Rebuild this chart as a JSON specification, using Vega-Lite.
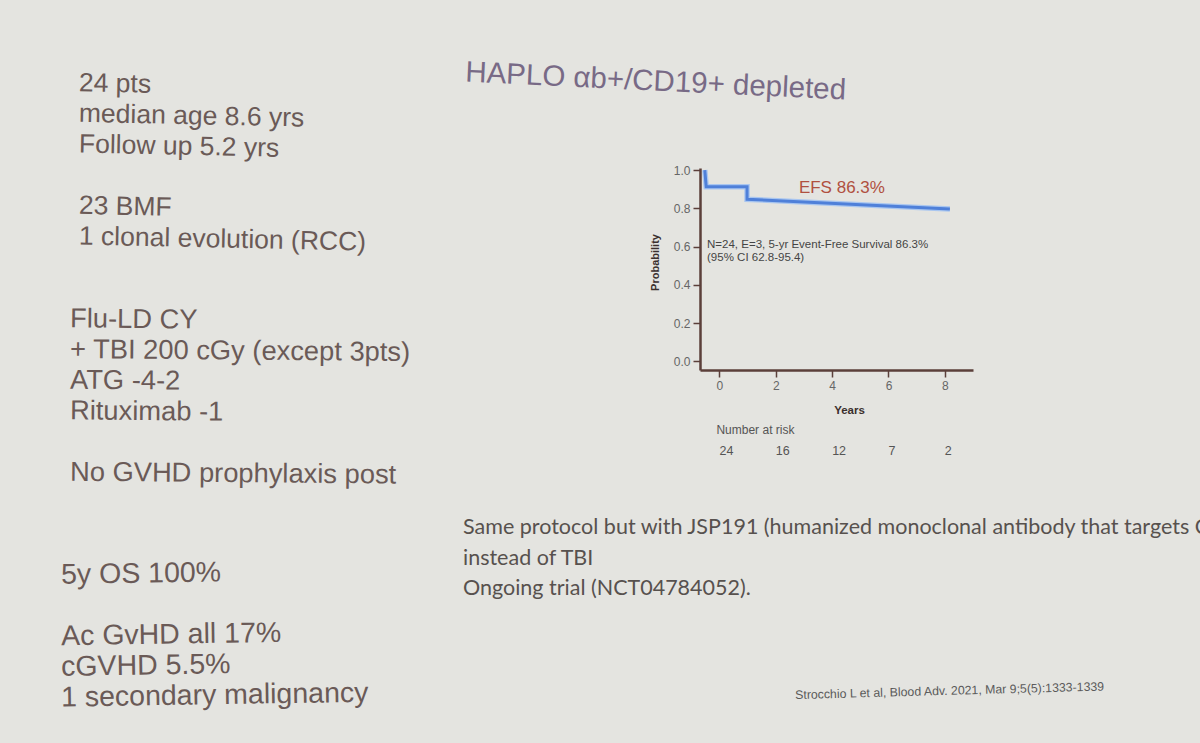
{
  "$schema": "https://vega.github.io/schema/vega-lite/v6.json",
  "description": "HAPLO ab+/CD19+ depleted slide: event-free survival curve with number at risk and slide text.",
  "width": 273,
  "height": 202,
  "autosize": "none",
  "padding": {"left": 700, "top": 168, "right": 227, "bottom": 373},
  "background": "#e4e4e0",
  "config": {"view": {"stroke": null}, "axis": {"grid": false}},
  "datasets": {
    "efs": [
      {"i": 1, "t": -0.52, "s": 1.0},
      {"i": 2, "t": -0.47, "s": 0.913},
      {"i": 3, "t": 0.98, "s": 0.913},
      {"i": 4, "t": 0.98, "s": 0.847},
      {"i": 5, "t": 8.18, "s": 0.796}
    ],
    "risk": [
      {"t": 0, "n": 24},
      {"t": 2, "n": 16},
      {"t": 4, "n": 12},
      {"t": 6, "n": 7},
      {"t": 8, "n": 2}
    ],
    "title": [
      {"column": "right", "line": 0, "text": "HAPLO αb+/CD19+ depleted"}
    ],
    "left_top": [
      {"column": "left", "line": 0, "text": "24 pts"},
      {"column": "left", "line": 1, "text": "median age 8.6 yrs"},
      {"column": "left", "line": 2, "text": "Follow up 5.2 yrs"},
      {"column": "left", "line": 4, "text": "23 BMF"},
      {"column": "left", "line": 5, "text": "1 clonal evolution (RCC)"}
    ],
    "left_mid": [
      {"column": "left", "line": 8, "text": "Flu-LD CY"},
      {"column": "left", "line": 9, "text": "+ TBI 200 cGy (except 3pts)"},
      {"column": "left", "line": 10, "text": "ATG -4-2"},
      {"column": "left", "line": 11, "text": "Rituximab -1"},
      {"column": "left", "line": 13, "text": "No GVHD prophylaxis post"}
    ],
    "left_bottom": [
      {"column": "left", "line": 16, "text": "5y OS 100%"},
      {"column": "left", "line": 18, "text": "Ac GvHD all 17%"},
      {"column": "left", "line": 19, "text": "cGVHD 5.5%"},
      {"column": "left", "line": 20, "text": "1 secondary malignancy"}
    ],
    "right": [
      {"column": "right", "line": 15, "text": "Same protocol but with JSP191 (humanized monoclonal antibody that targets CD117)"},
      {"column": "right", "line": 16, "text": "instead of TBI"},
      {"column": "right", "line": 17, "text": "Ongoing trial (NCT04784052)."}
    ],
    "cite": [
      {"column": "right", "line": 20, "text": "Strocchio L et al, Blood Adv. 2021, Mar 9;5(5):1333-1339"}
    ]
  },
  "layer": [
    {
      "layer": [
        {
          "data": {"name": "efs"},
          "mark": {"type": "line", "color": "#a9c6f0", "strokeWidth": 5.5},
          "encoding": {
            "x": {
              "field": "t",
              "type": "quantitative",
              "scale": {"domain": [-0.69, 9.0], "nice": false, "zero": false},
              "axis": {
                "values": [0, 2, 4, 6, 8],
                "title": "Years",
                "titleX": 149,
                "titleY": 40,
                "titleAlign": "center",
                "titleBaseline": "middle",
                "titleFont": "Liberation Sans",
                "titleFontWeight": "bold",
                "titleFontSize": 11.5,
                "titleColor": "#3b302e",
                "labelFont": "Liberation Sans",
                "labelFontSize": 12,
                "labelColor": "#666666",
                "labelPadding": 3,
                "labelOverlap": false,
                "tickSize": 7,
                "tickWidth": 1.5,
                "tickColor": "#5b3f3a",
                "domainColor": "#5b3f3a",
                "domainWidth": 2.5
              }
            },
            "y": {
              "field": "s",
              "type": "quantitative",
              "scale": {"domain": [-0.0455, 1.0105], "nice": false, "zero": false},
              "axis": {
                "values": [0, 0.2, 0.4, 0.6, 0.8, 1.0],
                "format": ".1f",
                "title": "Probability",
                "titleX": -45,
                "titleY": 94,
                "titleAngle": -90,
                "titleAlign": "center",
                "titleBaseline": "middle",
                "titleFont": "Liberation Sans",
                "titleFontWeight": "bold",
                "titleFontSize": 11,
                "titleColor": "#3b302e",
                "labelFont": "Liberation Sans",
                "labelFontSize": 12,
                "labelColor": "#666666",
                "labelPadding": 3,
                "labelOverlap": false,
                "tickSize": 7,
                "tickWidth": 1.5,
                "tickColor": "#5b3f3a",
                "domainColor": "#5b3f3a",
                "domainWidth": 2.5
              }
            },
            "order": {"field": "i"}
          }
        },
        {
          "data": {"name": "efs"},
          "mark": {"type": "line", "color": "#4f80d9", "strokeWidth": 3},
          "encoding": {
            "x": {"field": "t", "type": "quantitative"},
            "y": {"field": "s", "type": "quantitative"},
            "order": {"field": "i"}
          }
        },
        {
          "data": {"values": [{"label": "EFS 86.3%"}]},
          "mark": {"type": "text", "align": "left", "baseline": "middle", "font": "Liberation Sans", "fontSize": 17, "color": "#b0503f"},
          "encoding": {
            "x": {"datum": 2.82, "type": "quantitative"},
            "y": {"datum": 0.904, "type": "quantitative"},
            "text": {"field": "label"}
          }
        },
        {
          "data": {"values": [{"label": "N=24, E=3, 5-yr Event-Free Survival 86.3%"}]},
          "mark": {"type": "text", "align": "left", "baseline": "middle", "font": "Liberation Sans", "fontSize": 11.5, "color": "#444444"},
          "encoding": {
            "x": {"datum": -0.44, "type": "quantitative"},
            "y": {"datum": 0.61, "type": "quantitative"},
            "text": {"field": "label"}
          }
        },
        {
          "data": {"values": [{"label": "(95% CI 62.8-95.4)"}]},
          "mark": {"type": "text", "align": "left", "baseline": "middle", "font": "Liberation Sans", "fontSize": 11.5, "color": "#444444"},
          "encoding": {
            "x": {"datum": -0.44, "type": "quantitative"},
            "y": {"datum": 0.542, "type": "quantitative"},
            "text": {"field": "label"}
          }
        }
      ]
    },
    {
      "data": {"name": "risk"},
      "layer": [
        {
          "mark": {"type": "text", "align": "left", "baseline": "middle", "font": "Liberation Sans", "fontSize": 12.5, "color": "#555555", "dx": 0},
          "encoding": {
            "x": {"field": "t", "type": "quantitative", "scale": {"domain": [-0.69, 9.0], "nice": false, "zero": false}, "axis": null},
            "y": {"datum": "count", "type": "nominal", "scale": {"domain": ["header", "count"], "range": [262, 283], "padding": 0}, "axis": null},
            "text": {"field": "n", "type": "quantitative"}
          }
        },
        {
          "data": {"values": [{"label": "Number at risk"}]},
          "mark": {"type": "text", "align": "left", "baseline": "middle", "font": "Liberation Sans", "fontSize": 12, "color": "#555555", "dx": -3},
          "encoding": {
            "x": {"datum": 0, "type": "quantitative"},
            "y": {"datum": "header", "type": "nominal"},
            "text": {"field": "label"}
          }
        }
      ]
    },
    {
      "encoding": {
        "x": {"field": "column", "type": "nominal", "scale": {"domain": ["left", "right"], "range": [-630, -237], "padding": 0}, "axis": null},
        "y": {"field": "line", "type": "quantitative", "scale": {"domain": [0, 20], "range": [-88, 525.4], "nice": false, "zero": false}, "axis": null},
        "text": {"field": "text"}
      },
      "layer": [
        {
          "data": {"name": "title"},
          "mark": {"type": "text", "align": "left", "baseline": "middle", "font": "Liberation Sans", "fontSize": 29.5, "color": "#786a86", "angle": 2.7, "dx": 2, "dy": -7.5}
        },
        {
          "data": {"name": "left_top"},
          "mark": {"type": "text", "align": "left", "baseline": "middle", "font": "Liberation Sans", "fontSize": 26.5, "color": "#6a5a57", "angle": 1.2, "dx": 9, "dy": 3}
        },
        {
          "data": {"name": "left_mid"},
          "mark": {"type": "text", "align": "left", "baseline": "middle", "font": "Liberation Sans", "fontSize": 27.3, "color": "#6a5a57", "angle": 0.5, "dx": 0, "dy": -6}
        },
        {
          "data": {"name": "left_bottom"},
          "mark": {"type": "text", "align": "left", "baseline": "middle", "font": "Liberation Sans", "fontSize": 28.5, "color": "#6a5a57", "angle": -0.9, "dx": -9, "dy": 4}
        },
        {
          "data": {"name": "right"},
          "mark": {"type": "text", "align": "left", "baseline": "middle", "font": "Lato", "fontSize": 21.5, "color": "#57514e", "dy": -12}
        },
        {
          "data": {"name": "cite"},
          "mark": {"type": "text", "align": "left", "baseline": "middle", "font": "Liberation Sans", "fontSize": 12.3, "color": "#5a5a5a", "angle": -1.6, "dx": 332, "dy": 11}
        }
      ]
    }
  ],
  "resolve": {"scale": {"x": "independent", "y": "independent"}}
}
